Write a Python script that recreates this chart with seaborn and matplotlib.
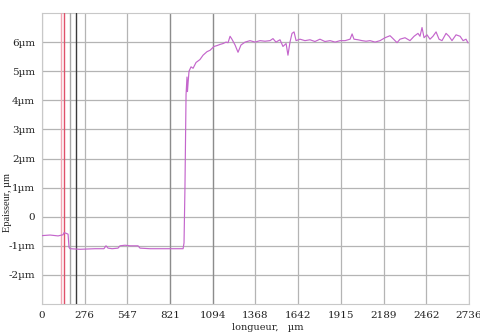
import matplotlib
matplotlib.use("Agg")
import matplotlib.pyplot as plt
import seaborn as sns
import pandas as pd

# profile data (length in µm, thickness in µm)
length_um = [0, 51, 103, 135, 141, 154, 167, 173, 179, 244, 340, 397, 410, 423, 449, 487,
             500, 532, 564, 615, 628, 692, 820, 904, 910, 916, 923, 929, 932, 936, 942, 955,
             968, 987, 1012, 1032, 1057, 1077, 1102, 1121, 1141, 1160, 1179, 1192, 1205, 1217,
             1237, 1256, 1275, 1301, 1333, 1365, 1397, 1429, 1461, 1480, 1499, 1525, 1544, 1564,
             1576, 1589, 1602, 1615, 1628, 1653, 1685, 1717, 1749, 1781, 1813, 1846, 1878, 1910,
             1942, 1974, 1987, 1999, 2025, 2051, 2076, 2102, 2134, 2166, 2198, 2230, 2249, 2275,
             2294, 2326, 2358, 2384, 2409, 2422, 2435, 2448, 2467, 2486, 2505, 2525, 2544, 2563,
             2589, 2608, 2627, 2653, 2679, 2698, 2717, 2730]
thickness_um = [-0.65, -0.63, -0.66, -0.62, -0.55, -0.57, -0.6, -1.05, -1.1, -1.12, -1.1, -1.1,
                -1.0, -1.08, -1.1, -1.08, -1.0, -0.98, -1.0, -1.0, -1.08, -1.1, -1.1, -1.1, -0.9,
                1.0, 4.2, 4.8, 4.3, 4.6, 5.0, 5.15, 5.1, 5.3, 5.4, 5.55, 5.67, 5.72, 5.85, 5.88,
                5.92, 5.95, 6.0, 5.98, 6.2, 6.1, 5.9, 5.65, 5.9, 6.0, 6.05, 6.0, 6.05, 6.03, 6.05,
                6.12, 6.0, 6.08, 5.85, 5.95, 5.55, 6.0, 6.3, 6.35, 6.05, 6.1, 6.05, 6.08, 6.02,
                6.1, 6.02, 6.05, 6.0, 6.05, 6.05, 6.1, 6.28, 6.1, 6.08, 6.05, 6.03, 6.05, 6.0,
                6.05, 6.15, 6.22, 6.12, 5.98, 6.1, 6.15, 6.05, 6.2, 6.3, 6.2, 6.5, 6.15, 6.25,
                6.1, 6.2, 6.35, 6.1, 6.05, 6.3, 6.2, 6.05, 6.25, 6.2, 6.05, 6.1, 5.97]

x_tick_labels = ["0", "276", "547", "821", "1094", "1368", "1642", "1915", "2189", "2462", "2736"]
y_tick_values = [-2, -1, 0, 1, 2, 3, 4, 5, 6]
y_tick_labels = ["-2µm", "-1µm", "0", "1µm", "2µm", "3µm", "4µm", "5µm", "6µm"]

# cursor lines (µm) and colours
cursor_pos = [122, 141, 179, 218]
cursor_colors = ["#f2a6b4", "#e0506a", "#a8a8a8", "#3a3a3a"]
dark_grid_pos = [820.8, 1094.4]

sns.set_style("white")
plt.rcParams["font.family"] = ["DejaVu Serif"]

df = pd.DataFrame({"length": length_um, "thickness": thickness_um})

fig = plt.figure(figsize=(4.81, 3.36), dpi=100)
ax = fig.add_axes([42 / 481, 1 - 304 / 336, 427 / 481, 291 / 336])

x_max = 2736
tick_pos = [i * x_max / 10 for i in range(11)]
ax.set_xlim(0, x_max)
ax.set_ylim(-3, 7)
ax.set_xticks(tick_pos)
ax.set_xticklabels(x_tick_labels)
ax.set_yticks(y_tick_values)
ax.set_yticklabels(y_tick_labels)
ax.grid(True, color="#b4b4b4", linewidth=0.9)
ax.set_axisbelow(True)
for xp in dark_grid_pos:
    ax.axvline(xp, color="#8c8c8c", linewidth=0.9, zorder=1)
for xp, c in zip(cursor_pos, cursor_colors):
    ax.axvline(xp, color=c, linewidth=1.0, zorder=3)

sns.lineplot(data=df, x="length", y="thickness", ax=ax, color="#c466cc",
             linewidth=0.85, zorder=4)

ax.set_xlabel("")
ax.set_ylabel("")
ax.tick_params(axis="both", length=0, labelsize=7.5, colors="#222222", pad=5)
for s in ax.spines.values():
    s.set_color("#c8c8c8")
    s.set_linewidth(0.8)

fig.text(268 / 481, 1 - 327 / 336, "longueur,   µm", ha="center", va="center",
         fontsize=7, color="#222222")
fig.text(8 / 481, 1 - 202 / 336, "Epaisseur, µm", ha="center", va="center",
         rotation=90, fontsize=7.5, color="#222222", family=["Liberation Serif"])

fig.savefig("out.png", dpi=100)
